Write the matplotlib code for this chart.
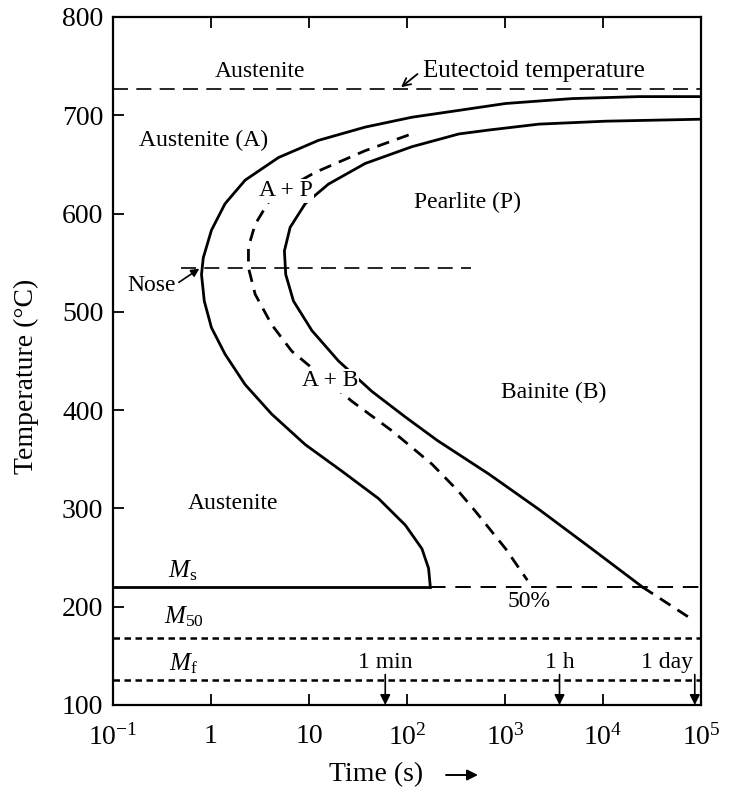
import matplotlib
matplotlib.use('Agg')
import matplotlib.pyplot as plt
from matplotlib.ticker import NullLocator

plt.rcParams['font.family'] = ['Liberation Serif', 'DejaVu Serif']
plt.rcParams['mathtext.fontset'] = 'custom'
plt.rcParams['mathtext.rm'] = 'Liberation Serif'
plt.rcParams['mathtext.it'] = 'Liberation Serif:italic'

# transformation start curve (time in s, temperature in degC)
start_t = [1e5, 23400, 4860, 1014, 338, 112, 37.5, 12.5, 4.88, 2.23, 1.39,
           1.01, 0.834, 0.80, 0.854, 1.01, 1.39, 2.23, 4.16, 9.14, 21.6,
           51.3, 96.2, 142, 166, 173]
start_T = [719, 719, 717, 712, 705, 698, 688, 674.5, 657, 634, 610,
           583, 555, 538, 511, 484, 457, 426, 396, 365, 338,
           310, 283, 259, 239, 220]

# 50 % transformed
half_t = [104, 37.5, 11.6, 4.16, 2.82, 2.41, 2.41, 2.82, 4.16, 6.67, 10.7,
          27.4, 70.2, 180, 338, 500, 1014, 1690]
half_T = [680, 664, 642, 617, 589, 566, 545, 518, 487, 460, 443,
          409, 379, 345, 317, 297, 259, 227]

# transformation finish curve
finish_t = [1e5, 10700, 2220, 684, 338, 112, 37.5, 15.8, 9.14, 6.42, 5.61,
            5.79, 6.94, 10.7, 20.0, 43.9, 96.2, 205, 684, 2220, 7210, 25300]
finish_T = [696, 694, 691, 685, 681, 668, 651, 630, 610, 586, 562,
            538, 511, 481, 450, 419, 393, 369, 335, 299, 261, 220]
finish_ext_t = [25300, 75900]
finish_ext_T = [220, 189]

T_eutectoid = 727
T_nose = 545
nose_t = [0.5, 450]
T_ms = 220
T_m50 = 168
T_mf = 125

mark_t = [60, 3600, 86400]
mark_lbl = ['1 min', '1 h', '1 day']
mark_lbl_x = [60, 3600, 45000]

fig = plt.figure(figsize=(7.3, 7.91), dpi=100)
ax = fig.add_axes([113 / 730, 1 - 705 / 791, 588 / 730, 688 / 791])
ax.set_xscale('log')
ax.set_xlim(0.1, 1e5)
ax.set_ylim(100, 800)

k = 'black'
ax.plot(start_t, start_T, color=k, lw=2.0, solid_joinstyle='round')
ax.plot(finish_t, finish_T, color=k, lw=2.0, solid_joinstyle='round')
ax.plot(finish_ext_t, finish_ext_T, color=k, lw=2.0, dashes=(4.5, 3))
ax.plot(half_t, half_T, color=k, lw=2.0, dashes=(4.5, 3))

# horizontal reference lines
ax.plot([0.1, 1e5], [T_eutectoid] * 2, color=k, lw=1.2, dashes=(9, 5))
ax.plot(nose_t, [T_nose] * 2, color=k, lw=1.2, dashes=(9, 5))
ax.plot([0.1, start_t[-1]], [T_ms] * 2, color=k, lw=2.0)
ax.plot([start_t[-1], 1e5], [T_ms] * 2, color=k, lw=1.4, dashes=(8, 5))
ax.plot([0.1, 1e5], [T_m50] * 2, color=k, lw=1.8, dashes=(2.6, 1.8))
ax.plot([0.1, 1e5], [T_mf] * 2, color=k, lw=1.8, dashes=(2.6, 1.8))

fs = 17
ax.text(3.19, 745, 'Austenite', fontsize=fs, ha='center', va='center')
ax.text(145, 745, 'Eutectoid temperature', fontsize=fs + 1, ha='left',
        va='center')
ax.annotate('', xy=(87, 728.5), xytext=(128, 742),
            arrowprops=dict(arrowstyle='->', color=k, lw=1.3,
                            mutation_scale=14, shrinkA=0, shrinkB=0))
ax.text(0.84, 674, 'Austenite (A)', fontsize=fs, ha='center', va='center')
ax.text(5.75, 623, 'A + P', fontsize=fs, ha='center', va='center', zorder=5,
        bbox=dict(fc='white', ec='none', pad=1))
ax.text(417, 611, 'Pearlite (P)', fontsize=fs, ha='center', va='center')
ax.text(0.245, 527, 'Nose', fontsize=fs, ha='center', va='center')
ax.annotate('', xy=(0.76, 544), xytext=(0.47, 530),
            arrowprops=dict(arrowstyle='-|>', color=k, lw=1.2,
                            mutation_scale=12, shrinkA=0, shrinkB=0))
ax.text(16.3, 430, 'A + B', fontsize=fs, ha='center', va='center', zorder=5,
        bbox=dict(fc='white', ec='none', pad=1))
ax.text(3160, 418, 'Bainite (B)', fontsize=fs, ha='center', va='center')
ax.text(1.69, 305, 'Austenite', fontsize=fs, ha='center', va='center')
ax.text(0.52, 237, r'$M_\mathrm{s}$', fontsize=fs + 1, ha='center', va='center')
ax.text(0.53, 190, r'$M_{50}$', fontsize=fs + 1, ha='center', va='center')
ax.text(0.52, 142, r'$M_\mathrm{f}$', fontsize=fs + 1, ha='center', va='center')
ax.text(1760, 205, '50%', fontsize=fs, ha='center', va='center')

for t, lbl, lx in zip(mark_t, mark_lbl, mark_lbl_x):
    ax.text(lx, 143, lbl, fontsize=fs, ha='center', va='center')
    ax.annotate('', xy=(t, 100), xytext=(t, 131),
                arrowprops=dict(arrowstyle='-|>', color=k, lw=1.2,
                                mutation_scale=15, shrinkA=0, shrinkB=0))

ax.set_xticks([0.1, 1, 10, 100, 1e3, 1e4, 1e5])
ax.set_xticklabels([r'$10^{-1}$', '1', '10', r'$10^{2}$', r'$10^{3}$',
                    r'$10^{4}$', r'$10^{5}$'])
ax.xaxis.set_minor_locator(NullLocator())
ax.set_yticks(range(100, 801, 100))
ax.tick_params(direction='in', length=8, width=1.3, labelsize=20, pad=7,
               top=True, right=False)
ax.tick_params(axis='x', pad=14)
for s in ax.spines.values():
    s.set_linewidth(1.6)

ax.set_ylabel('Temperature (\u00b0C)', fontsize=20)
ax.yaxis.set_label_coords(-0.125, 0.478)

# x-axis title with its arrow
fig.text(376 / 730, 16 / 791, 'Time (s)', fontsize=20, ha='center',
         va='center')
ax.annotate('', xy=(478, 16), xytext=(446, 16), xycoords='figure pixels',
            textcoords='figure pixels', annotation_clip=False,
            arrowprops=dict(arrowstyle='-|>', color=k, lw=1.4,
                            mutation_scale=16, shrinkA=0, shrinkB=0))

fig.savefig('out.png', dpi=100)
